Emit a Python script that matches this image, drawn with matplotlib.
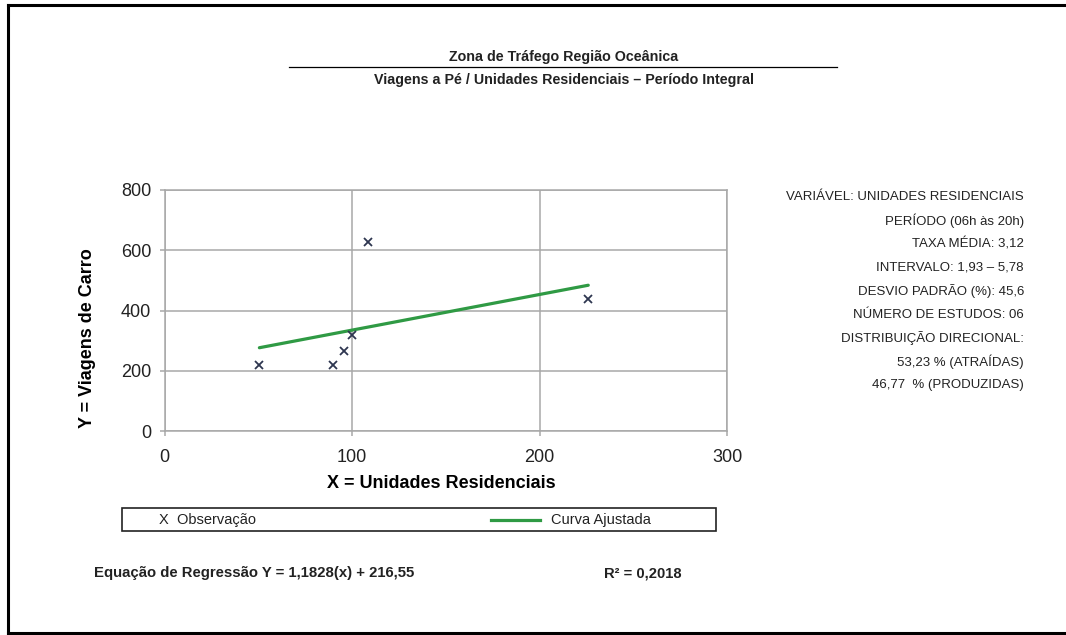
import numpy as np
import matplotlib
matplotlib.use('Agg')
import matplotlib.pyplot as plt
from matplotlib.lines import Line2D
from matplotlib.patches import Rectangle

# dados
obs_x = [50.6, 90.1, 95.8, 99.9, 108.3, 226.0]
obs_y = [219, 219, 267, 319, 629, 438]
coef_a = 1.1828
coef_b = 216.55
fit_x = [50.6, 226.0]
xticks = [0, 100, 200, 300]
yticks = [0, 200, 400, 600, 800]

info_lines = [
    'VARIÁVEL: UNIDADES RESIDENCIAIS',
    'PERÍODO (06h às 20h)',
    'TAXA MÉDIA: 3,12',
    'INTERVALO: 1,93 – 5,78',
    'DESVIO PADRÃO (%): 45,6',
    'NÚMERO DE ESTUDOS: 06',
    'DISTRIBUIÇÃO DIRECIONAL:',
    '53,23 % (ATRAÍDAS)',
    '46,77  % (PRODUZIDAS)',
]

W, H = 1066, 635
arial = ['Liberation Sans', 'DejaVu Sans']
plt.rcParams['font.family'] = arial

fig = plt.figure(figsize=(W / 100, H / 100), dpi=100)

def fx(px):
    return px / W

def fy(py):
    return 1 - py / H

# moldura
for xs, ys in [([8, 8], [5, 633]), ([8, W], [5, 5]), ([8, W], [633, 633])]:
    fig.add_artist(Line2D([fx(v) for v in xs], [fy(v) for v in ys],
                          color='black', lw=2.2))

# titulos
fig.text(fx(564), fy(57), 'Zona de Tráfego Região Oceânica', ha='center',
         va='center', fontsize=10.3, fontweight='bold', color='#222222')
fig.add_artist(Line2D([fx(289), fx(837)], [fy(67), fy(67)], color='black', lw=0.9))
fig.text(fx(564), fy(80), 'Viagens a Pé / Unidades Residenciais – Período Integral',
         ha='center', va='center', fontsize=10.3, fontweight='bold', color='#222222')

ax = fig.add_axes([fx(164.5), fy(431), fx(727) - fx(164.5), fy(190) - fy(431)])
ax.set_xlim(0, 300)
ax.set_ylim(0, 800)
ax.set_xticks(xticks)
ax.set_yticks(yticks)
ax.grid(True, color='#a8a8a8', lw=1.1)
ax.set_axisbelow(True)
for s in ax.spines.values():
    s.set_color('#a8a8a8')
    s.set_linewidth(1.1)
ax.tick_params(axis='both', color='#a8a8a8', width=1.1, length=3.6,
               labelsize=13, labelcolor='#222222')
ax.tick_params(axis='y', pad=6)
ax.tick_params(axis='x', pad=9)

fit_y = [coef_a * v + coef_b for v in fit_x]
ax.plot(fit_x, fit_y, color='#2f9a44', lw=2.3, solid_capstyle='round', zorder=3)
ax.plot(obs_x, obs_y, ls='none', marker='x', ms=5.2, mew=1.3, color='#2e3650', zorder=4)

ax.set_xlabel('X = Unidades Residenciais', fontsize=13, fontweight='bold')
ax.set_ylabel('Y = Viagens de Carro', fontsize=13, fontweight='bold')
ax.xaxis.set_label_coords((441 - 164.5) / (727 - 164.5), -(475 - 431) / (431 - 190))
ax.yaxis.set_label_coords(-(164.5 - 96) / (727 - 164.5), (431 - 338) / (431 - 190))

# legenda
fig.add_artist(Rectangle((fx(122), fy(531)), fx(716) - fx(122), fy(508) - fy(531),
                         fill=False, ec='#222222', lw=1.2))
fig.text(fx(159), fy(520), 'X  Observação', va='center', fontsize=10.5, color='#222222')
fig.add_artist(Line2D([fx(491), fx(540)], [fy(520), fy(520)], color='#2f9a44', lw=2.3))
fig.text(fx(551), fy(520), 'Curva Ajustada', va='center', fontsize=10.5, color='#222222')

fig.text(fx(94), fy(573), 'Equação de Regressão Y = {:.4f}(x) + {:.2f}'.format(coef_a, coef_b).replace('.', ','),
         va='center', fontsize=10.7, fontweight='bold', color='#222222')
fig.text(fx(604), fy(573), 'R² = 0,2018', va='center', fontsize=10.6,
         fontweight='bold', color='#222222')

# caixa de informacoes
for i, line in enumerate(info_lines):
    fig.text(fx(1024), fy(197 + i * 23.5), line, ha='right', va='center',
             fontsize=9.5, color='#222222')

fig.savefig('out.png', dpi=100)
